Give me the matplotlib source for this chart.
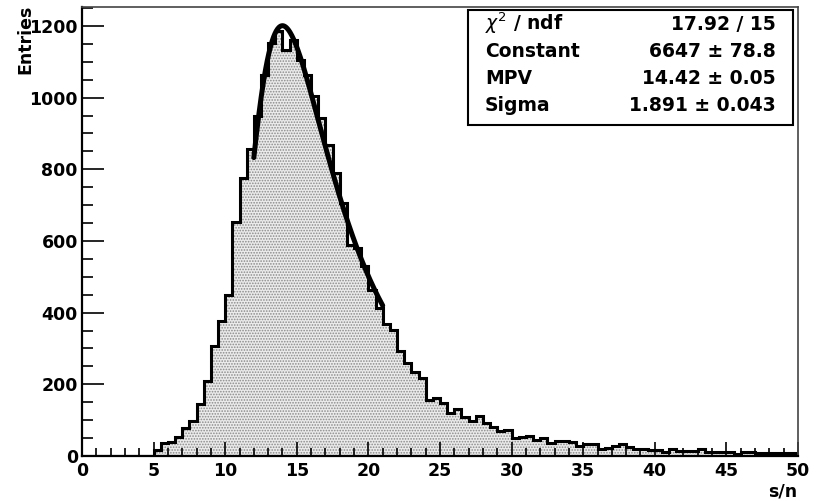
import numpy as np
import matplotlib
matplotlib.use("Agg")
import matplotlib.pyplot as plt
from matplotlib.ticker import MultipleLocator
from matplotlib.patches import Rectangle

# ---- histogram of s/n (0.5 wide bins from 0 to 50) ----
bin_lo, bin_hi, bin_w = 0.0, 50.0, 0.5
counts = [
    0, 0, 0, 0, 0, 0, 0, 0, 0, 0,                       # 0.0 - 4.5
    17, 37, 40, 52, 77, 99, 144, 210, 308, 378,          # 5.0 - 9.5
    450, 654, 776, 858, 948, 1064, 1153, 1185, 1133, 1162,  # 10.0 - 14.5
    1106, 1064, 1004, 943, 869, 791, 706, 589, 580, 529,    # 15.0 - 19.5
    462, 412, 368, 353, 292, 259, 235, 218, 157, 162,    # 20.0 - 24.5
    147, 119, 130, 110, 97, 112, 93, 80, 70, 73,         # 25.0 - 29.5
    49, 52, 57, 45, 51, 37, 43, 43, 40, 28,              # 30.0 - 34.5
    34, 34, 20, 23, 28, 34, 26, 19, 19, 17,              # 35.0 - 39.5
    17, 10, 20, 14, 13, 13, 19, 10, 12, 12,              # 40.0 - 44.5
    12, 6, 11, 10, 9, 9, 8, 8, 7, 7,                     # 45.0 - 49.5
]

# ---- Landau fit result ----
fit_constant = 6647.0
fit_mpv = 14.42
fit_sigma = 1.891
fit_range = (12.0, 21.0)

stats_labels = [r"$\chi^{2}$ / ndf", "Constant", "MPV", "Sigma"]
stats_values = ["17.92 / 15", "6647 \u00b1 78.8", "14.42 \u00b1 0.05", "1.891 \u00b1 0.043"]

x_title = "s/n"
y_title = "Entries"


def landau_density(lam):
    """Landau density phi(lambda) via its integral representation."""
    t = np.linspace(1e-9, 30.0, 20001)
    lam = np.atleast_1d(lam)[:, None]
    integrand = np.exp(-t * np.log(t) - lam * t) * np.sin(np.pi * t)
    return np.trapezoid(integrand, t, axis=1) / np.pi


edges = np.arange(bin_lo, bin_hi + bin_w / 2, bin_w)
counts = np.asarray(counts, dtype=float)

plt.rcParams["font.family"] = ["DejaVu Sans"]
plt.rcParams["mathtext.fontset"] = "dejavusans"
plt.rcParams["hatch.linewidth"] = 0.8

fig = plt.figure(figsize=(8.17, 5.01), dpi=100)
ax = fig.add_axes([82 / 817, 45 / 501, 716 / 817, 449 / 501])

# dotted fill
ax.stairs(counts, edges, fill=True, facecolor="#ebebeb", edgecolor="#8a8a8a",
          linewidth=0, hatch="......", zorder=1)
# outline
ax.stairs(counts, edges, color="black", linewidth=2.2, zorder=2)

# fit curve
xf = np.linspace(fit_range[0], fit_range[1], 300)
yf = fit_constant * landau_density((xf - fit_mpv) / fit_sigma)
ax.plot(xf, yf, color="black", linewidth=3.6, solid_capstyle="round", zorder=3)

ax.set_xlim(bin_lo, bin_hi)
ax.set_ylim(0, 1253)

ax.xaxis.set_major_locator(MultipleLocator(5))
ax.xaxis.set_minor_locator(MultipleLocator(1))
ax.yaxis.set_major_locator(MultipleLocator(200))
ax.yaxis.set_minor_locator(MultipleLocator(50))

ax.tick_params(axis="both", which="both", direction="in", top=False, right=False,
               width=1.2, labelsize=12.5)
ax.tick_params(axis="x", which="major", length=10, pad=4)
ax.tick_params(axis="x", which="minor", length=5.5)
ax.tick_params(axis="y", which="major", length=15.5, pad=3)
ax.tick_params(axis="y", which="minor", length=8)
for lab in ax.get_xticklabels() + ax.get_yticklabels():
    lab.set_fontweight("bold")

for side in ("left", "bottom"):
    ax.spines[side].set_linewidth(1.6)
for side in ("top", "right"):
    ax.spines[side].set_linewidth(1.2)
    ax.spines[side].set_color("#444444")

# axis titles placed at the axis ends
fig.text(797 / 817, 1 - 491 / 501, x_title, ha="right", va="center",
         fontsize=12.5, fontweight="bold")
fig.text(25 / 817, 1 - 5 / 501, y_title, ha="center", va="top", rotation=90,
         fontsize=12.5, fontweight="bold")

# statistics box
bx0, bx1 = (468 - 82) / 716, (793 - 82) / 716
by0, by1 = (456 - 125) / 449, (456 - 10) / 449
ax.add_patch(Rectangle((bx0, by0), bx1 - bx0, by1 - by0, transform=ax.transAxes,
                       facecolor="white", edgecolor="black", linewidth=1.5,
                       zorder=5, clip_on=False))
row_baselines = [30, 57, 84, 111]
for lab, val, yb in zip(stats_labels, stats_values, row_baselines):
    yy = (456 - yb) / 449
    ax.text((485 - 82) / 716, yy, lab, transform=ax.transAxes, ha="left",
            va="baseline", fontsize=13.5, fontweight="bold", zorder=6)
    ax.text((776 - 82) / 716, yy, val, transform=ax.transAxes, ha="right",
            va="baseline", fontsize=13.5, fontweight="bold", zorder=6)

fig.savefig("out.png", dpi=100)
